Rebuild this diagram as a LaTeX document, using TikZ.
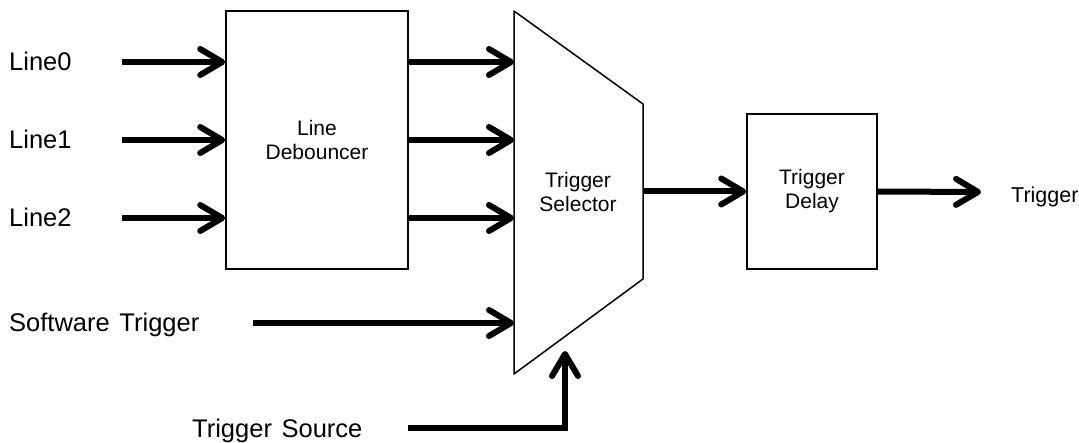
\documentclass[tikz,border=0pt]{standalone}
\usepackage{fontspec}
\setmainfont{Liberation Sans}
\usetikzlibrary{arrows.meta, positioning}

\begin{document}
\begin{tikzpicture}[x=1pt, y=-1pt,
  blk/.style={rectangle, draw, line width=1.6pt, align=center,
    font=\fontsize{21}{24}\selectfont},
  lbl/.style={anchor=base west, inner sep=0pt, font=\fontsize{25.5}{29}\selectfont},
  sig/.style={line width=6pt,
    -{Straight Barb[length=22pt, width=26pt, line cap=round, line join=round]}},
]
  \useasboundingbox (0,0) rectangle (1079,443);

  % blocks
  \node[blk, minimum width=182pt, minimum height=258pt] (deb) at (317,140) {Line\\Debouncer};
  \node[blk, minimum width=130pt, minimum height=155pt] (delay) at (812,191.5) {Trigger\\Delay};
  \coordinate (selNW) at (514,11);
  \coordinate (selNE) at (643,104);
  \coordinate (selSE) at (643,279);
  \coordinate (selSW) at (514,374);
  \draw[line width=1.5pt, line join=round] (selNW) -- (selNE) -- (selSE) -- (selSW) -- cycle;
  \node[align=center, font=\fontsize{21}{24}\selectfont] (sel) at (578,192) {Trigger\\Selector};

  % labels
  \node[lbl] (line0) at (9,71) {Line0};
  \node[lbl] (line1) at (9,149) {Line1};
  \node[lbl] (line2) at (9,227) {Line2};
  \node[lbl] (sw) at (9,332) {Software\hspace{0.1em} Trigger};
  \node[lbl] (src) at (192,437) {Trigger\hspace{0.1em} Source};
  \node[anchor=base west, inner sep=0pt, font=\fontsize{21.5}{26}\selectfont] (trig) at (1011,203) {Trigger};

  % connector ends
  \coordinate (in0) at (122,62);
  \coordinate (in1) at (122,140);
  \coordinate (in2) at (122,218);
  \coordinate (swin) at (253,323);
  \coordinate (srcin) at (408,428);
  \coordinate (srcup) at (565,351);
  \coordinate (out) at (981,192);

  % signals
  \draw[sig] (in0) -- (deb.west |- in0);
  \draw[sig] (in1) -- (deb.west |- in1);
  \draw[sig] (in2) -- (deb.west |- in2);
  \draw[sig] (deb.east |- in0) -- (selNW |- in0);
  \draw[sig] (deb.east |- in1) -- (selNW |- in1);
  \draw[sig] (deb.east |- in2) -- (selNW |- in2);
  \draw[sig] (swin) -- (selNW |- swin);
  \draw[sig] (srcin) -| (srcup);
  \draw[sig] (selNE |- delay.west) -- (delay.west);
  \draw[sig] (delay.east) -- (out);
\end{tikzpicture}
\end{document}
